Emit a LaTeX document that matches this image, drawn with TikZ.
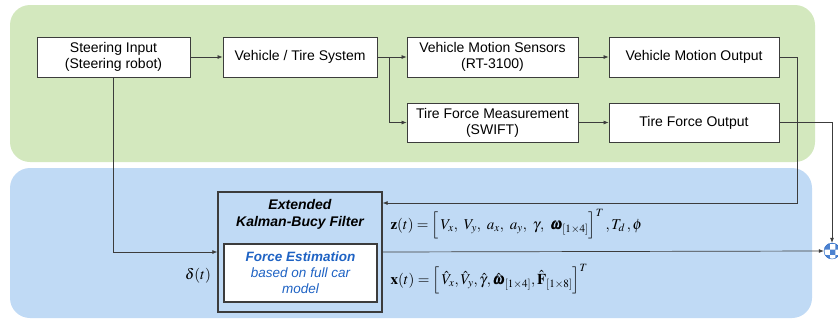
\documentclass[tikz,border=0pt]{standalone}
\usepackage{amsmath,amssymb}
\usepackage{mathptmx}
\usepackage{bm}
\usepackage[no-math]{fontspec}
\setmainfont{Liberation Sans}
\usepackage{xcolor}
\usepackage{tikz}
\usetikzlibrary{arrows.meta,calc,patterns,positioning}
\definecolor{greenzone}{HTML}{D3E8BE}
\definecolor{bluezone}{HTML}{C0DAF5}
\definecolor{wire}{HTML}{3C3C3C}
\definecolor{estblue}{HTML}{1F63C4}

\begin{document}
\begin{tikzpicture}[x=1pt,y=-1pt,>={Latex[length=5pt,width=4pt]},
    font=\fontsize{14}{16}\selectfont,
    block/.style={draw=wire,fill=white,minimum height=40pt,align=center,
      inner sep=1pt,line width=0.8pt},
    link/.style={->,draw=wire,line width=0.7pt}]
    \useasboundingbox (0,0) rectangle (838,322);

    % background zones
    \fill[greenzone,rounded corners=20pt] (10,5) rectangle (815,162);
    \fill[bluezone,rounded corners=20pt] (10,168) rectangle (812,318);

    % measurement side
    \node[block,minimum width=153pt] (steer) at (113.5,57)
      {Steering Input\\(Steering robot)};
    \node[block,minimum width=154pt] (vts) at (300,57) {Vehicle / Tire System};
    \node[block,minimum width=171pt] (vms) at (492.5,57)
      {Vehicle Motion Sensors\\(RT-3100)};
    \node[block,minimum width=170pt] (vmo) at (694,57) {Vehicle Motion Output};
    \node[block,minimum width=171pt,minimum height=39pt] (tfm) at (492.5,122.5)
      {Tire Force Measurement\\(SWIFT)};
    \node[block,minimum width=170pt,minimum height=39pt] (tfo) at (694,122.5)
      {Tire Force Output};

    % estimator side
    \node[draw=wire,line width=1.3pt,minimum width=164pt,minimum height=120pt]
      (ekbf) at (300,252) {};
    \node[font=\fontsize{14}{17}\selectfont\bfseries\itshape,align=center]
      (ekbftitle) at (300,214) {Extended\\Kalman-Bucy Filter};
    \node[draw=wire,line width=1.1pt,fill=white,minimum width=153pt,
      minimum height=58pt,align=center,text=estblue,
      font=\fontsize{13.5}{16}\selectfont\itshape] (fe) at (300.5,273)
      {\textbf{Force Estimation}\\based on full car\\model};
    \node[circle,draw=estblue,fill=white,pattern=checkerboard,
      pattern color=estblue!80,minimum size=16pt,inner sep=0pt]
      (sum) at (832,251) {};

    \coordinate (split) at ($(vts.east)+(12,0)$);
    \draw[link] (steer) -- (vts);
    \draw[link] (vts) -- (vms);
    \draw[link] (split) |- (tfm.west);
    \draw[link] (vms) -- (vmo);
    \draw[link] (tfm) -- (tfo);
    \draw[link] (vmo.east) -- ++(18,0) |- ([yshift=49pt]ekbf.east);
    \draw[link] (tfo.east) -| (sum.north);
    \draw[link] (steer.south) |- (ekbf.west);
    \draw[link] (ekbf.east) -- (sum.west);

    \node[font=\fontsize{15}{17}\selectfont] (delta) at (198,276) {$\delta(t)$};
    \node[anchor=west,font=\fontsize{15}{17}\selectfont] (zeq) at (387,224)
      {$\mathbf{z}(t)=\Big[\,V_x,\ V_y,\ a_x,\ a_y,\ \gamma,\
        \bm{\omega}_{[1\times4]}\Big]^T\,, T_d\,, \phi$};
    \node[anchor=west,font=\fontsize{15}{17}\selectfont] (xeq) at (387,279)
      {$\mathbf{x}(t)=\Big[\,\hat V_x,\hat V_y,\hat\gamma,
        \hat{\bm{\omega}}_{[1\times4]},\hat{\mathbf{F}}_{[1\times8]}\Big]^T$};
  \end{tikzpicture}
\end{document}
